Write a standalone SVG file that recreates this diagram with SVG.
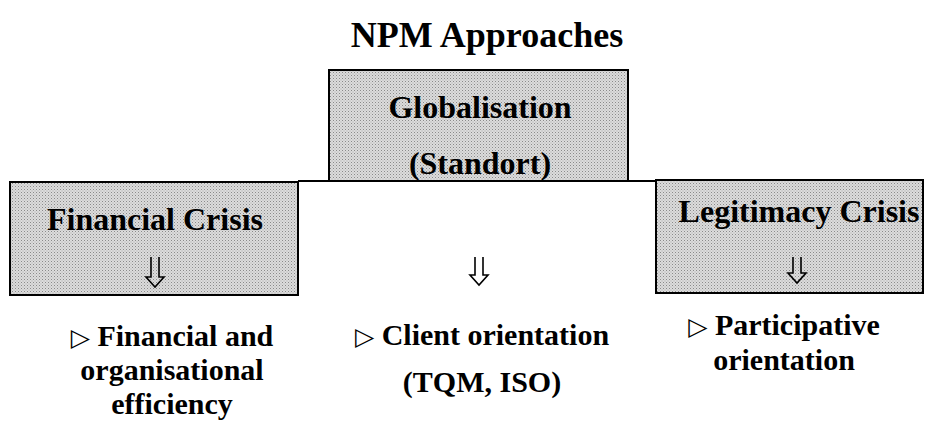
<svg xmlns="http://www.w3.org/2000/svg" width="925" height="426" viewBox="0 0 925 426">
<style>
.t{font-family:"Liberation Serif","Times New Roman",serif;font-weight:bold;fill:#000;text-anchor:middle;font-size:32px}
.b{font-size:30px}
.tri{font-family:"DejaVu Sans",sans-serif;font-weight:normal;font-size:25px}
.box{fill:url(#dots);stroke:#000;stroke-width:2}
.arr{fill:none;stroke:#000;stroke-width:1.6;stroke-linejoin:miter}
</style>
<defs>
<pattern id="dots" width="3" height="3" patternUnits="userSpaceOnUse">
<rect width="3" height="3" fill="#dcdcdc"/>
<rect width="1" height="1" fill="#8a8a8a"/>
<rect x="1.5" y="1.5" width="1" height="1" fill="#a8a8a8"/>
</pattern>
</defs>
<text class="t" x="487" y="47" style="font-size:36px">NPM Approaches</text>
<g id="globalisation">
<rect class="box" x="329" y="70" width="299" height="111"/>
<text class="t" x="480" y="118">Globalisation</text>
<text class="t" x="480" y="174">(Standort)</text>
</g>
<g id="financial-crisis">
<rect class="box" x="10" y="182" width="288" height="113"/>
<text class="t" x="155" y="230">Financial Crisis</text>
<path class="arr" d="M151 257 V277 H146 L155 287 L164 277 H159 V257"/>
</g>
<g id="legitimacy-crisis">
<rect class="box" x="656" y="180" width="267" height="113"/>
<text class="t" x="799" y="222">Legitimacy Crisis</text>
<path class="arr" d="M793 257 V273 H788 L797 283 L806 273 H801 V257"/>
</g>
<g id="connectors">
<line x1="298" y1="181" x2="656" y2="181" stroke="#000" stroke-width="2"/>
<path class="arr" d="M475 257 V275 H470 L479 285 L488 275 H483 V257"/>
</g>
<g id="outcome-financial">
<text class="t b" x="172" y="346"><tspan class="tri">▷</tspan> Financial and</text>
<text class="t b" x="172" y="380">organisational</text>
<text class="t b" x="172" y="414">efficiency</text>
</g>
<g id="outcome-client">
<text class="t b" x="482" y="345"><tspan class="tri">▷</tspan> Client orientation</text>
<text class="t b" x="482" y="392">(TQM, ISO)</text>
</g>
<g id="outcome-participative">
<text class="t b" x="784" y="335"><tspan class="tri">▷</tspan> Participative</text>
<text class="t b" x="784" y="370">orientation</text>
</g>
</svg>
